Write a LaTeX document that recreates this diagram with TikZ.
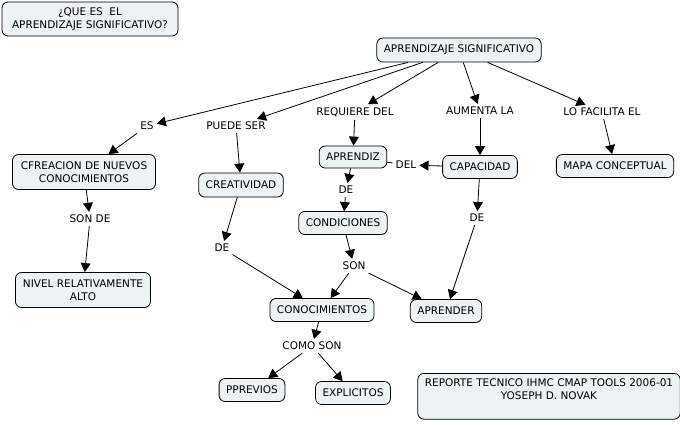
\documentclass[tikz,border=0pt]{standalone}
\usepackage{fontspec}
\setmainfont{DejaVu Sans}
\usetikzlibrary{arrows.meta}
\definecolor{cfill}{HTML}{EDF2F5}
\begin{document}
\begin{tikzpicture}[x=1pt, y=-1pt,
    font=\fontsize{10.5}{13}\selectfont,
    cpt/.style={draw, line width=0.8pt, rounded corners=6pt, fill=cfill, align=center,
                minimum height=24pt, inner xsep=7pt, inner ysep=5pt},
    lnk/.style={inner sep=3pt, align=center},
    arr/.style={-{Triangle[length=9pt, width=10pt]}, line width=0.8pt}]
    \useasboundingbox (0,0) rectangle (680,425); % same frame as the reference

    % concepts
    \node[cpt, minimum width=176pt, minimum height=34pt] (title) at (90,19) {¿QUE ES\ \ EL\\APRENDIZAJE SIGNIFICATIVO?};
    \node[cpt] (sig) at (459,50) {APRENDIZAJE SIGNIFICATIVO};
    \node[cpt, minimum width=143pt, minimum height=35pt] (crea) at (84,172) {CFREACION DE NUEVOS\\CONOCIMIENTOS};
    \node[cpt] (creat) at (241,185) {CREATIVIDAD};
    \node[cpt, minimum height=22pt] (apz) at (353,157) {APRENDIZ};
    \node[cpt, minimum height=23pt] (cap) at (480,167) {CAPACIDAD};
    \node[cpt, minimum height=23pt] (mapa) at (615,166) {MAPA CONCEPTUAL};
    \node[cpt, minimum height=23pt] (cond) at (343,223) {CONDICIONES};
    \node[cpt, minimum width=135pt, minimum height=35pt] (nivel) at (83,290) {NIVEL RELATIVAMENTE\\ALTO};
    \node[cpt, minimum height=23pt] (conoc) at (322,310) {CONOCIMIENTOS};
    \node[cpt, minimum height=23pt] (aprender) at (446,311) {APRENDER};
    \node[cpt, minimum height=23pt] (prev) at (252,390) {PPREVIOS};
    \node[cpt, minimum height=23pt] (expl) at (353,393) {EXPLICITOS};
    \node[cpt, minimum width=258pt, anchor=north] (rep) at (549,373)
        {REPORTE TECNICO IHMC CMAP TOOLS 2006-01\\YOSEPH D. NOVAK\rule[-15pt]{0pt}{15pt}};

    % linking phrases
    \node[lnk] (es) at (147,126) {ES};
    \node[lnk] (puede) at (236,126) {PUEDE SER};
    \node[lnk] (req) at (355,112) {REQUIERE DEL};
    \node[lnk] (aum) at (480,111) {AUMENTA LA};
    \node[lnk] (faci) at (602,112) {LO FACILITA EL};
    \node[lnk] (del) at (406,165) {DEL};
    \node[lnk] (deA) at (346,190) {DE};
    \node[lnk] (deC) at (477,218) {DE};
    \node[lnk] (sonde) at (90,219) {SON DE};
    \node[lnk] (deL) at (222,248) {DE};
    \node[lnk] (son) at (354,266) {SON};
    \node[lnk] (como) at (312,346) {COMO SON};

    % connectors
    \draw[arr] (sig) -- (es);
    \draw[arr] (sig) -- (puede);
    \draw[arr] (sig) -- (req);
    \draw[arr] (sig) -- (aum);
    \draw[arr] (sig) -- (faci);
    \draw[arr] (es) -- (crea);
    \draw[arr] (puede) -- (creat);
    \draw[arr] (req) -- (apz);
    \draw[arr] (aum) -- (cap);
    \draw[arr] (faci) -- (mapa);
    \draw[arr] (cap) -- (del);
    \draw[line width=0.8pt] (del) -- (apz);
    \draw[arr] (apz) -- (deA);
    \draw[arr] (deA) -- (cond);
    \draw[arr] (cap) -- (deC);
    \draw[arr] (deC) -- (aprender);
    \draw[arr] (crea) -- (sonde);
    \draw[arr] (sonde) -- (nivel);
    \draw[arr] (creat) -- (deL);
    \draw[arr] (deL) -- (conoc);
    \draw[arr] (cond) -- (son);
    \draw[arr] (son) -- (conoc);
    \draw[arr] (son) -- (aprender);
    \draw[arr] (conoc) -- (como);
    \draw[arr] (como) -- (prev);
    \draw[arr] (como) -- (expl);
\end{tikzpicture}
\end{document}
